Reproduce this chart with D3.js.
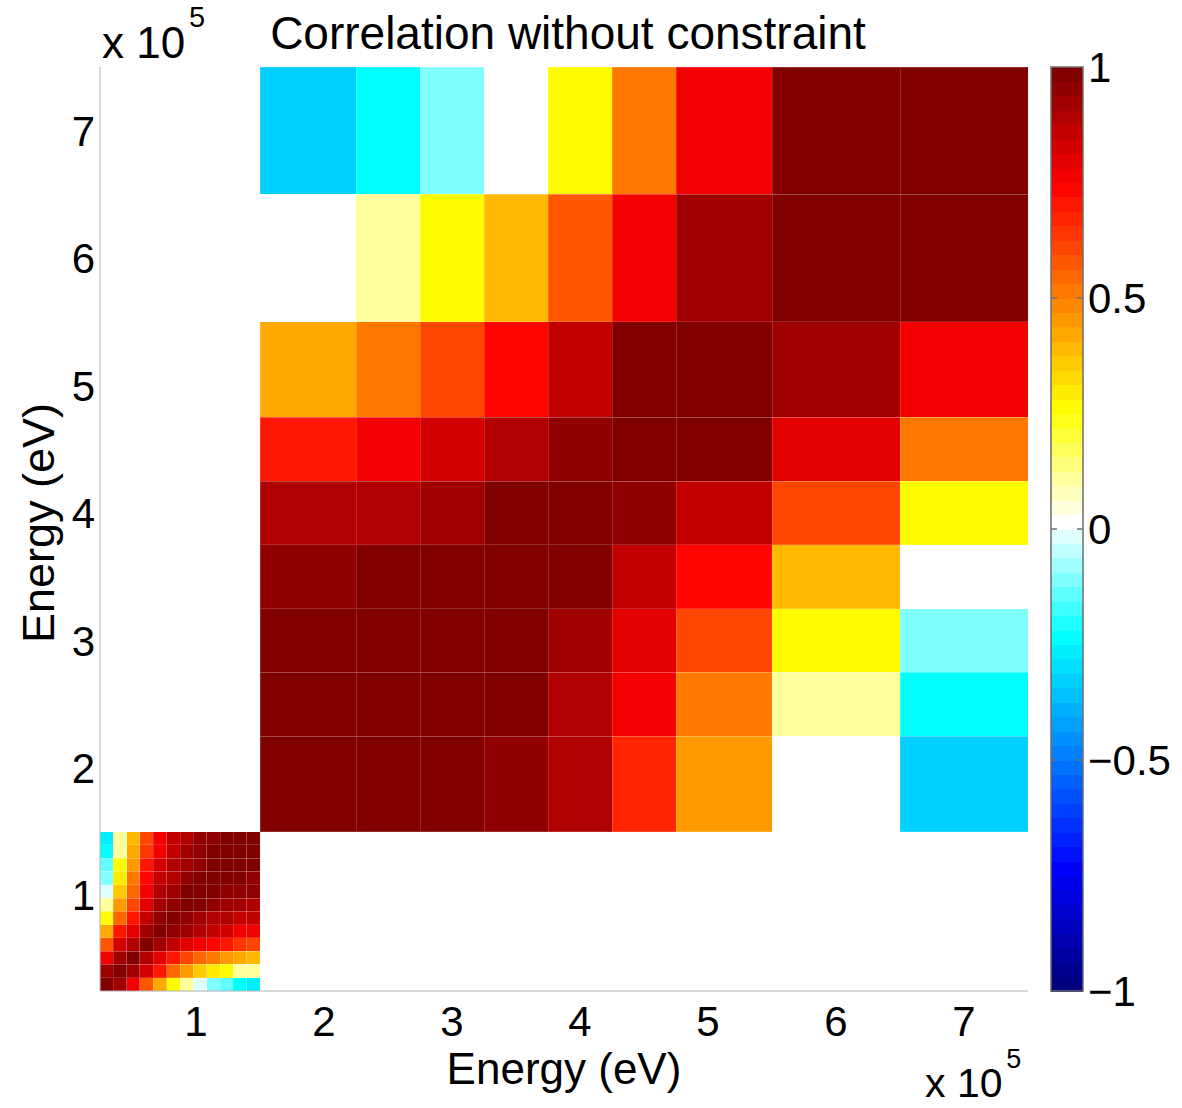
<!DOCTYPE html>
<html>
<head>
<meta charset="utf-8">
<script src="https://cdnjs.cloudflare.com/ajax/libs/d3/7.8.5/d3.min.js"></script>
<style>
  body { margin: 0; background: #fff; }
  text { font-family: "Liberation Sans", Arial, Helvetica, sans-serif; fill: #000; }
</style>
</head>
<body>
<svg id="corr" width="1182" height="1108"></svg>
<script>
// energy bin edges, in units of 10^5 eV
var fineEdges = [0.25, 0.354, 0.458, 0.562, 0.667, 0.771, 0.875, 0.979, 1.083, 1.188, 1.292, 1.396, 1.5];
var coarseEdges = [1.5, 2.25, 2.75, 3.25, 3.75, 4.25, 4.75, 5.5, 6.5, 7.5];

// correlation, row 0 = lowest energy bin (bottom), col 0 = left
var fineCorr = [
  [ 1.00, 0.93, 0.78, 0.58, 0.42, 0.28, 0.12,-0.02,-0.10,-0.15,-0.25,-0.27],
  [ 0.93, 1.00, 0.92, 0.82, 0.70, 0.55, 0.45, 0.35, 0.30, 0.25, 0.12, 0.10],
  [ 0.78, 0.92, 1.00, 0.90, 0.80, 0.70, 0.60, 0.55, 0.50, 0.46, 0.42, 0.40],
  [ 0.58, 0.82, 0.90, 1.00, 0.92, 0.85, 0.80, 0.75, 0.72, 0.70, 0.65, 0.62],
  [ 0.42, 0.70, 0.80, 0.92, 1.00, 0.95, 0.92, 0.88, 0.85, 0.82, 0.78, 0.75],
  [ 0.28, 0.55, 0.70, 0.85, 0.95, 1.00, 0.96, 0.93, 0.90, 0.88, 0.87, 0.85],
  [ 0.12, 0.45, 0.60, 0.80, 0.92, 0.96, 1.00, 0.97, 0.95, 0.93, 0.92, 0.90],
  [-0.02, 0.35, 0.55, 0.75, 0.88, 0.93, 0.97, 1.00, 0.98, 0.96, 0.95, 0.94],
  [-0.10, 0.30, 0.50, 0.72, 0.85, 0.90, 0.95, 0.98, 1.00, 0.98, 0.97, 0.96],
  [-0.15, 0.25, 0.46, 0.70, 0.82, 0.88, 0.93, 0.96, 0.98, 1.00, 0.98, 0.97],
  [-0.25, 0.12, 0.42, 0.65, 0.78, 0.87, 0.92, 0.95, 0.97, 0.98, 1.00, 0.99],
  [-0.27, 0.10, 0.40, 0.62, 0.75, 0.85, 0.90, 0.94, 0.96, 0.97, 0.99, 1.00]
];
var coarseCorr = [
  [ 1.00, 0.98, 0.97, 0.96, 0.90, 0.66, 0.45, 0.00,-0.32],
  [ 0.98, 1.00, 0.98, 0.97, 0.90, 0.77, 0.53, 0.12,-0.22],
  [ 0.97, 0.98, 1.00, 0.98, 0.92, 0.80, 0.60, 0.25,-0.12],
  [ 0.96, 0.97, 0.98, 1.00, 0.97, 0.86, 0.74, 0.38, 0.00],
  [ 0.90, 0.90, 0.92, 0.97, 1.00, 0.96, 0.87, 0.60, 0.25],
  [ 0.70, 0.76, 0.82, 0.89, 0.96, 1.00, 0.97, 0.80, 0.52],
  [ 0.43, 0.51, 0.60, 0.73, 0.87, 0.97, 1.00, 0.93, 0.75],
  [ 0.00, 0.12, 0.25, 0.38, 0.58, 0.78, 0.93, 1.00, 0.97],
  [-0.32, -0.22, -0.12, 0.00, 0.25, 0.52, 0.75, 0.97, 1.00]
];

var axisTicks = [1, 2, 3, 4, 5, 6, 7];
var barTicks = [1, 0.5, 0, -0.5, -1];
var barLabels = ["1", "0.5", "0", "\u22120.5", "\u22121"];

// colormap anchors
var cmapStops = [-1, -0.75, -0.5, -0.25, 0, 0.25, 0.5, 0.75, 1];
var cmapColors = ["#000080", "#0000ff", "#0080ff", "#00ffff", "#ffffff", "#ffff00", "#ff8000", "#ff0000", "#800000"];
var nLevels = 64;

var svg = d3.select("#corr");

var x = d3.scaleLinear().domain([0.25, 7.5]).range([100, 1028]);
var y = d3.scaleLinear().domain([0.25, 7.5]).range([991, 67]);

var cmap = d3.scaleLinear().domain(cmapStops).range(cmapColors).interpolate(d3.interpolateRgb);

// 64 level colormap, white sits on the first level above 0
function levelValue(k) {
    return k < nLevels / 2 ? -1 + k / (nLevels / 2) : (k - nLevels / 2) / (nLevels / 2 - 1);
}
function levelOf(v) {
    return Math.max(0, Math.min(nLevels - 1, Math.floor((v + 1) / 2 * nLevels)));
}
function colorOf(v) {
    return cmap(levelValue(levelOf(v)));
}

// build flat cell list from both blocks
var cells = [];
function addBlock(edges, corr) {
    corr.forEach(function(row, i) {
        row.forEach(function(v, j) {
            cells.push({x0: edges[j], x1: edges[j + 1], y0: edges[i], y1: edges[i + 1], v: v});
        });
    });
}
addBlock(fineEdges, fineCorr);
addBlock(coarseEdges, coarseCorr);

svg.append("g")
    .selectAll("rect")
    .data(cells)
    .enter()
    .append("rect")
    .attr("x", d => x(d.x0))
    .attr("y", d => y(d.y1))
    .attr("width", d => x(d.x1) - x(d.x0))
    .attr("height", d => y(d.y0) - y(d.y1))
    .attr("fill", d => colorOf(d.v))
    .attr("stroke", "rgba(255,255,255,0.16)")
    .attr("stroke-width", 1)
    .attr("shape-rendering", "crispEdges");

// left and bottom axis lines
svg.append("line")
    .attr("x1", x(0.25)).attr("x2", x(0.25))
    .attr("y1", y(0.25)).attr("y2", y(7.5))
    .attr("stroke", "#b0b0b0").attr("stroke-width", 1);
svg.append("line")
    .attr("x1", x(0.25)).attr("x2", x(7.5))
    .attr("y1", y(0.25)).attr("y2", y(0.25))
    .attr("stroke", "#b0b0b0").attr("stroke-width", 1);

// tick labels
svg.append("g")
    .selectAll("text")
    .data(axisTicks)
    .enter()
    .append("text")
    .attr("x", d => x(d))
    .attr("y", 1036)
    .attr("text-anchor", "middle")
    .attr("font-size", "42px")
    .text(d => d);

svg.append("g")
    .selectAll("text")
    .data(axisTicks)
    .enter()
    .append("text")
    .attr("x", 95)
    .attr("y", d => y(d) + 15)
    .attr("text-anchor", "end")
    .attr("font-size", "42px")
    .text(d => d);

// axis labels
svg.append("text")
    .attr("x", (x(0.25) + x(7.5)) / 2)
    .attr("y", 1084)
    .attr("text-anchor", "middle")
    .attr("font-size", "44px")
    .text("Energy (eV)");

svg.append("text")
    .attr("transform", "translate(54," + ((y(0.25) + y(7.5)) / 2 - 6) + ") rotate(-90)")
    .attr("text-anchor", "middle")
    .attr("font-size", "45px")
    .text("Energy (eV)");

// title
svg.append("text")
    .attr("x", 568)
    .attr("y", 49)
    .attr("text-anchor", "middle")
    .attr("font-size", "46px")
    .text("Correlation without constraint");

// x 10^5 multipliers
function multiplier(px, py, fs) {
    svg.append("text")
        .attr("x", px)
        .attr("y", py)
        .attr("font-size", fs + "px")
        .text("x 10");
    svg.append("text")
        .attr("x", px + fs * 1.98)
        .attr("y", py - fs * 0.7)
        .attr("font-size", Math.round(fs * 0.66) + "px")
        .text("5");
}
multiplier(102, 58, 44);
multiplier(925, 1097, 41);

// colorbar
var cbX = 1051, cbW = 32;
var cy = d3.scaleLinear().domain([-1, 1]).range([991, 67]);

svg.append("g")
    .selectAll("rect")
    .data(d3.range(nLevels))
    .enter()
    .append("rect")
    .attr("x", cbX)
    .attr("y", k => cy(-1 + (k + 1) * 2 / nLevels))
    .attr("width", cbW)
    .attr("height", k => cy(-1 + k * 2 / nLevels) - cy(-1 + (k + 1) * 2 / nLevels) + 0.5)
    .attr("fill", k => cmap(levelValue(k)))
    .attr("shape-rendering", "crispEdges");

svg.append("rect")
    .attr("x", cbX)
    .attr("y", cy(1))
    .attr("width", cbW)
    .attr("height", cy(-1) - cy(1))
    .attr("fill", "none")
    .attr("stroke", "#6e6e6e")
    .attr("stroke-width", 1.5);

var cbTicks = svg.append("g")
    .selectAll("g")
    .data(barTicks)
    .enter()
    .append("g");

cbTicks.filter(d => Math.abs(d) < 1)
    .append("line")
    .attr("x1", cbX).attr("x2", cbX + 6)
    .attr("y1", d => cy(d)).attr("y2", d => cy(d))
    .attr("stroke", "#6e6e6e").attr("stroke-width", 1.5);
cbTicks.filter(d => Math.abs(d) < 1)
    .append("line")
    .attr("x1", cbX + cbW - 6).attr("x2", cbX + cbW)
    .attr("y1", d => cy(d)).attr("y2", d => cy(d))
    .attr("stroke", "#6e6e6e").attr("stroke-width", 1.5);

cbTicks.append("text")
    .attr("x", cbX + cbW + 5)
    .attr("y", d => cy(d) + 15)
    .attr("font-size", "42px")
    .text((d, i) => barLabels[i]);
</script>
</body>
</html>
